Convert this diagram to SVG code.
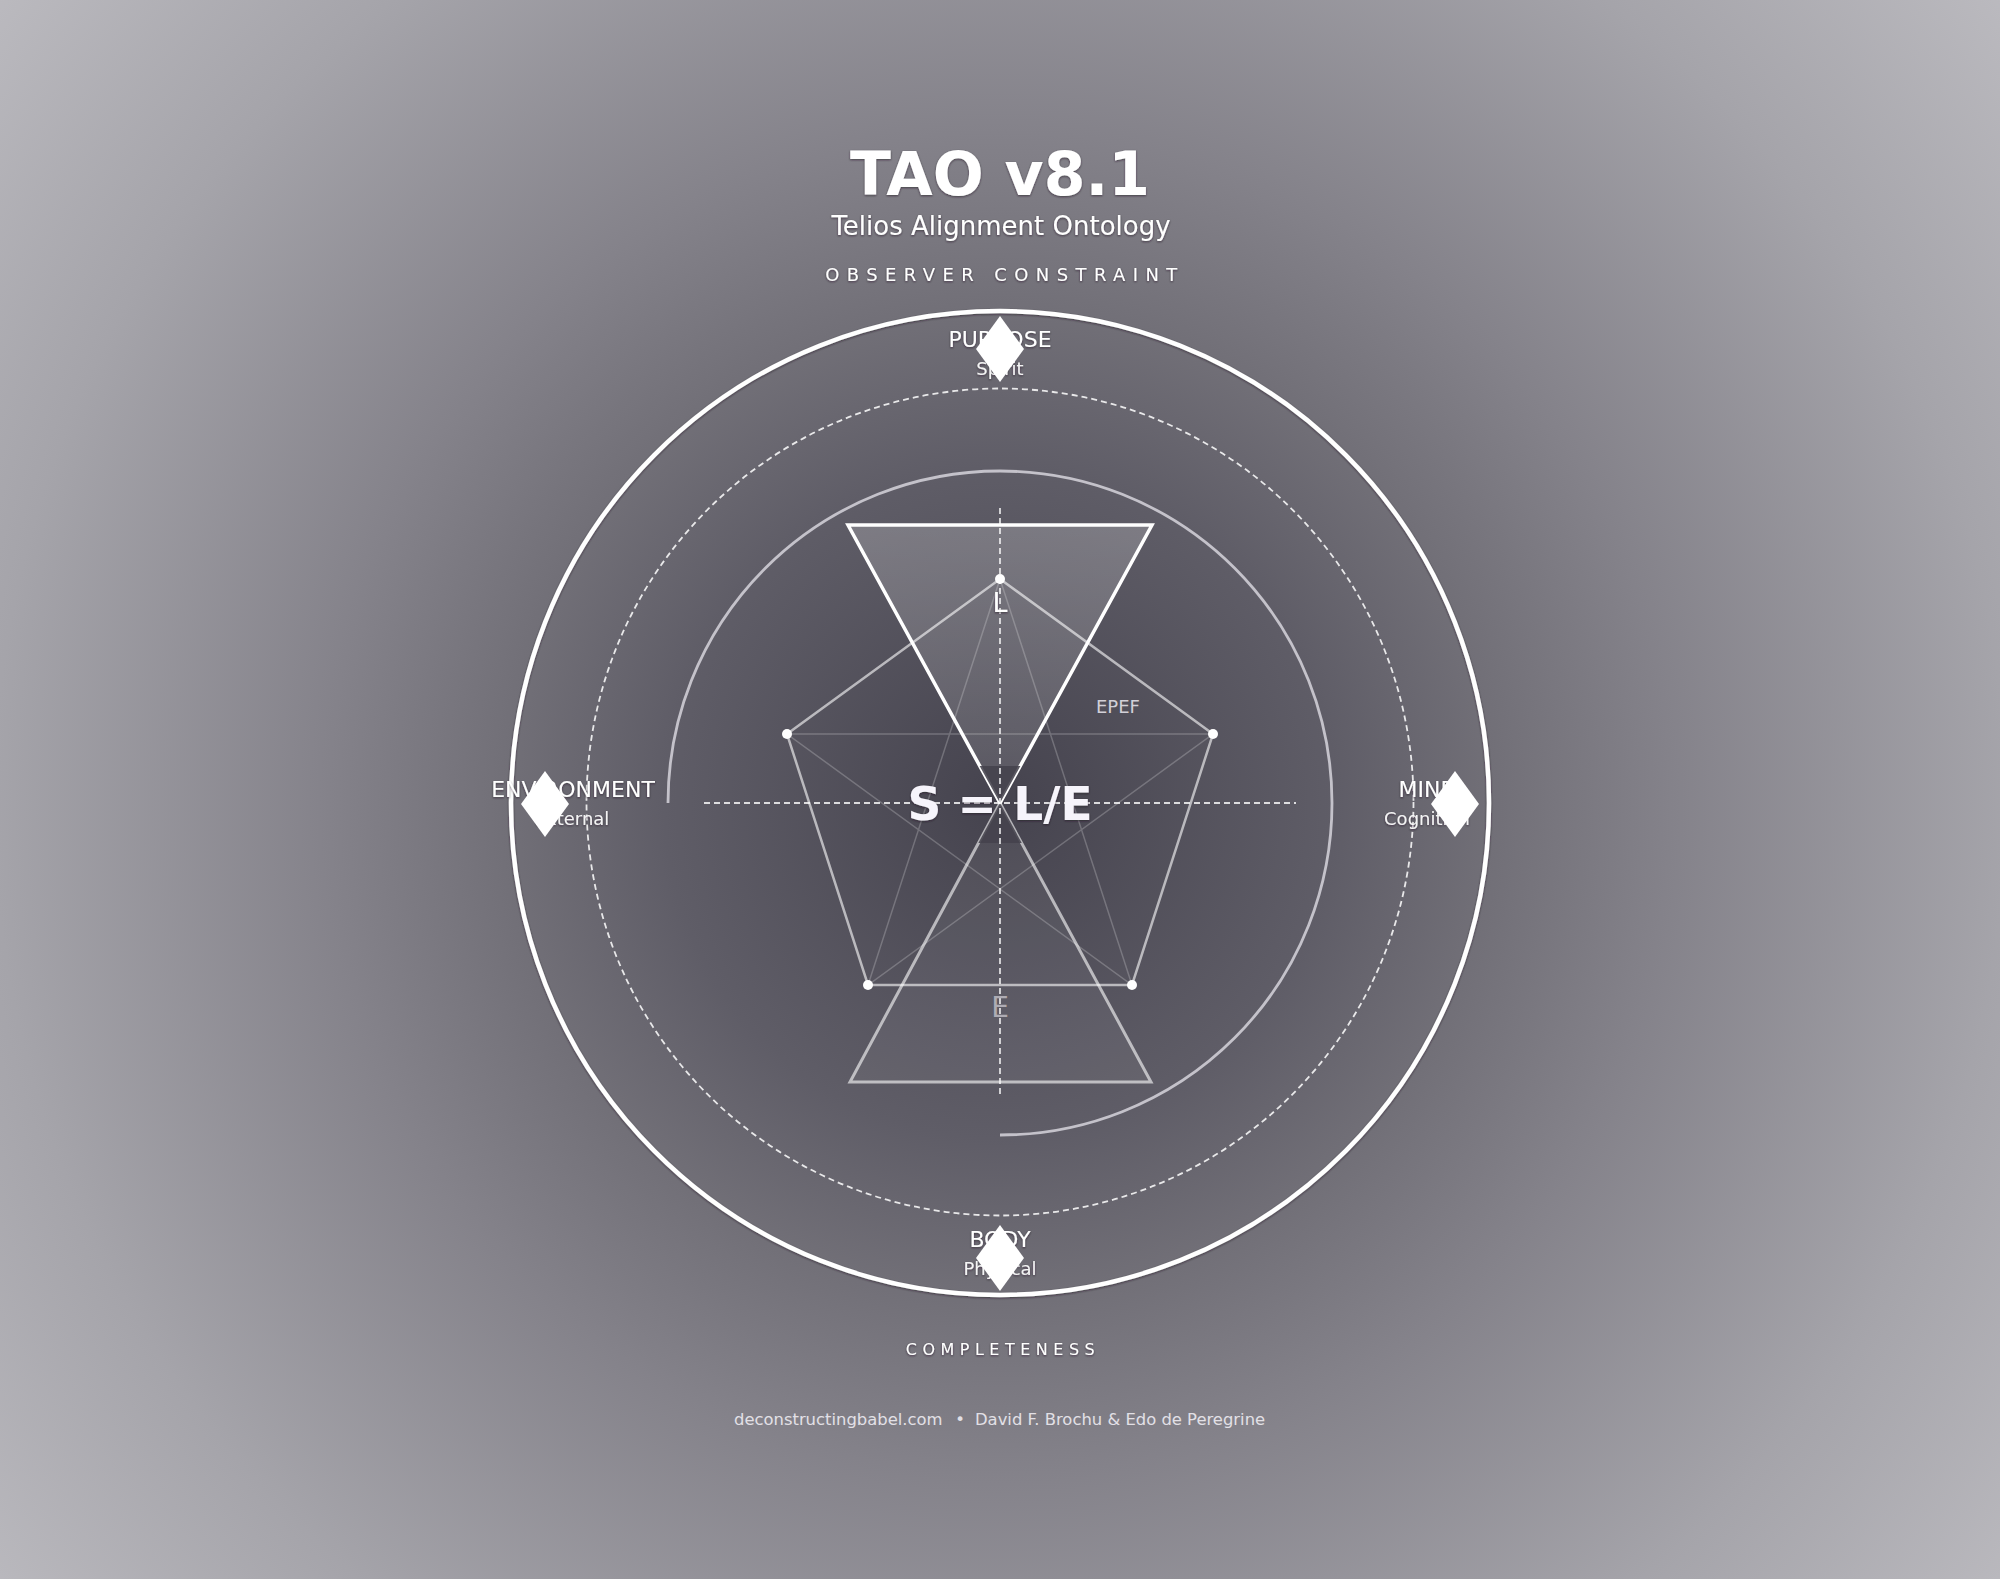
<svg xmlns="http://www.w3.org/2000/svg" width="2000" height="1579" viewBox="0 0 2000 1579">
<defs>
<radialGradient id="bg" gradientUnits="userSpaceOnUse" cx="1000" cy="803" r="1290">
<stop offset="0" stop-color="#45434e"/>
<stop offset="0.26" stop-color="#5f5d67"/>
<stop offset="0.38" stop-color="#716f77"/>
<stop offset="0.52" stop-color="#84828a"/>
<stop offset="0.78" stop-color="#a5a4aa"/>
<stop offset="1" stop-color="#bbbabf"/>
</radialGradient>
<linearGradient id="upFill" x1="0" y1="0" x2="0" y2="1">
<stop offset="0" stop-color="#ffffff" stop-opacity="0.2"/>
<stop offset="1" stop-color="#ffffff" stop-opacity="0.1"/>
</linearGradient>
<clipPath id="triClip">
<polygon points="846,523 1154,523 1000,803"/>
<polygon points="848,1084 1153,1084 1000,803"/>
</clipPath>
<filter id="sh" x="-10%" y="-30%" width="120%" height="160%">
<feDropShadow dx="0" dy="1" stdDeviation="1" flood-color="#1a1820" flood-opacity="0.6"/>
</filter>
<style>
.t{font-family:"DejaVu Sans","Liberation Sans",sans-serif;fill:#ffffff;text-anchor:middle}
.name{font-size:22px}
.sub{font-size:18px;fill-opacity:0.92}
.dia{fill:#ffffff}
.axis{stroke:#ffffff;stroke-opacity:0.8;stroke-width:1.8;stroke-dasharray:6 4;fill:none}
.dot{fill:#ffffff}
.foot{font-family:"DejaVu Sans","Liberation Sans",sans-serif;font-size:16.4px;fill:#e2e0e6}
</style>
</defs>
<rect x="0" y="0" width="2000" height="1579" fill="url(#bg)"/>

<!-- rings -->
<g id="rings">
<ellipse cx="1000" cy="803" rx="489" ry="492" fill="none" stroke="#ffffff" stroke-width="4.5" filter="url(#sh)"/>
<circle cx="1000" cy="802" r="413.5" fill="none" stroke="#ffffff" stroke-opacity="0.85" stroke-width="1.8" stroke-dasharray="6 4"/>
<path d="M 668 803 A 332 332 0 1 1 1000 1135" fill="none" stroke="#c4c2ca" stroke-width="2.8"/>
</g>

<!-- triangles -->
<g id="triangles">
<polygon points="848,525 1152,525 1000,803" fill="url(#upFill)" stroke="#ffffff" stroke-width="3.5"/>
<polygon points="850,1082 1151,1082 1000,803" fill="#ffffff" fill-opacity="0.05" stroke="#ffffff" stroke-opacity="0.6" stroke-width="3"/>
<rect x="950" y="766" width="100" height="77" fill="#44424c" fill-opacity="0.88" clip-path="url(#triClip)"/>
</g>

<!-- pentagon -->
<g id="pentagon">
<polygon points="1000,579 1213,734 1132,985 868,985 787,734" fill="none" stroke="#ffffff" stroke-opacity="0.6" stroke-width="2.5"/>
<polygon points="1000,579 1132,985 787,734 1213,734 868,985" fill="none" stroke="#ffffff" stroke-opacity="0.22" stroke-width="1.5"/>
<circle class="dot" cx="1000" cy="579" r="5"/>
<circle class="dot" cx="1213" cy="734" r="5"/>
<circle class="dot" cx="1132" cy="985" r="5"/>
<circle class="dot" cx="868" cy="985" r="5"/>
<circle class="dot" cx="787" cy="734" r="5"/>
<text x="1096" y="713" font-family="DejaVu Sans, Liberation Sans, sans-serif" font-size="18" fill="#d2d0d8">EPEF</text>
</g>

<!-- connectors / axes -->
<g id="connectors">
<line class="axis" x1="704" y1="803" x2="1296" y2="803"/>
<line class="axis" x1="1000" y1="508" x2="1000" y2="1098"/>
</g>

<!-- center labels -->
<g id="center">
<text class="t" x="1000" y="612" font-size="27" filter="url(#sh)">L</text>
<text class="t" x="1000" y="1017" font-size="28" style="fill:#aeacb4">E</text>
<text class="t" x="1000" y="820" font-size="47" font-weight="bold" style="fill:#f6f4fb" filter="url(#sh)">S = L/E</text>
</g>

<!-- title -->
<g id="title">
<text class="t" x="1000" y="195" font-size="60" font-weight="bold" filter="url(#sh)">TAO v8.1</text>
<text class="t" x="1001" y="235" font-size="26" filter="url(#sh)">Telios Alignment Ontology</text>
<text class="t" x="1005" y="281" font-size="18" letter-spacing="7.4" filter="url(#sh)">OBSERVER CONSTRAINT</text>
</g>

<!-- nodes -->
<g id="node-purpose">
<text class="t name" x="1000" y="347" filter="url(#sh)">PURPOSE</text>
<text class="t sub" x="1000" y="375" filter="url(#sh)">Spirit</text>
<polygon class="dia" points="1000,316 1024,349 1000,382 976,349"/>
</g>
<g id="node-environment">
<text class="t name" x="573" y="797" filter="url(#sh)">ENVIRONMENT</text>
<text class="t sub" x="572" y="825" filter="url(#sh)">External</text>
<polygon class="dia" points="545,771 569,804 545,837 521,804"/>
</g>
<g id="node-mind">
<text class="t name" x="1428" y="797" filter="url(#sh)">MIND</text>
<text class="t sub" x="1427" y="825" filter="url(#sh)">Cognition</text>
<polygon class="dia" points="1455,771 1479,804 1455,837 1431,804"/>
</g>
<g id="node-body">
<text class="t name" x="1000" y="1247" filter="url(#sh)">BODY</text>
<text class="t sub" x="1000" y="1275" filter="url(#sh)">Physical</text>
<polygon class="dia" points="1000,1225 1024,1258 1000,1291 976,1258"/>
</g>

<!-- footer -->
<g id="footer">
<text class="t" x="1003" y="1355" font-size="16" letter-spacing="5.5" filter="url(#sh)">COMPLETENESS</text>
<text class="foot" x="734" y="1425">deconstructingbabel.com</text>
<text class="foot" x="960" y="1425" text-anchor="middle">•</text>
<text class="foot" x="975" y="1425">David F. Brochu &amp; Edo de Peregrine</text>
</g>
</svg>
